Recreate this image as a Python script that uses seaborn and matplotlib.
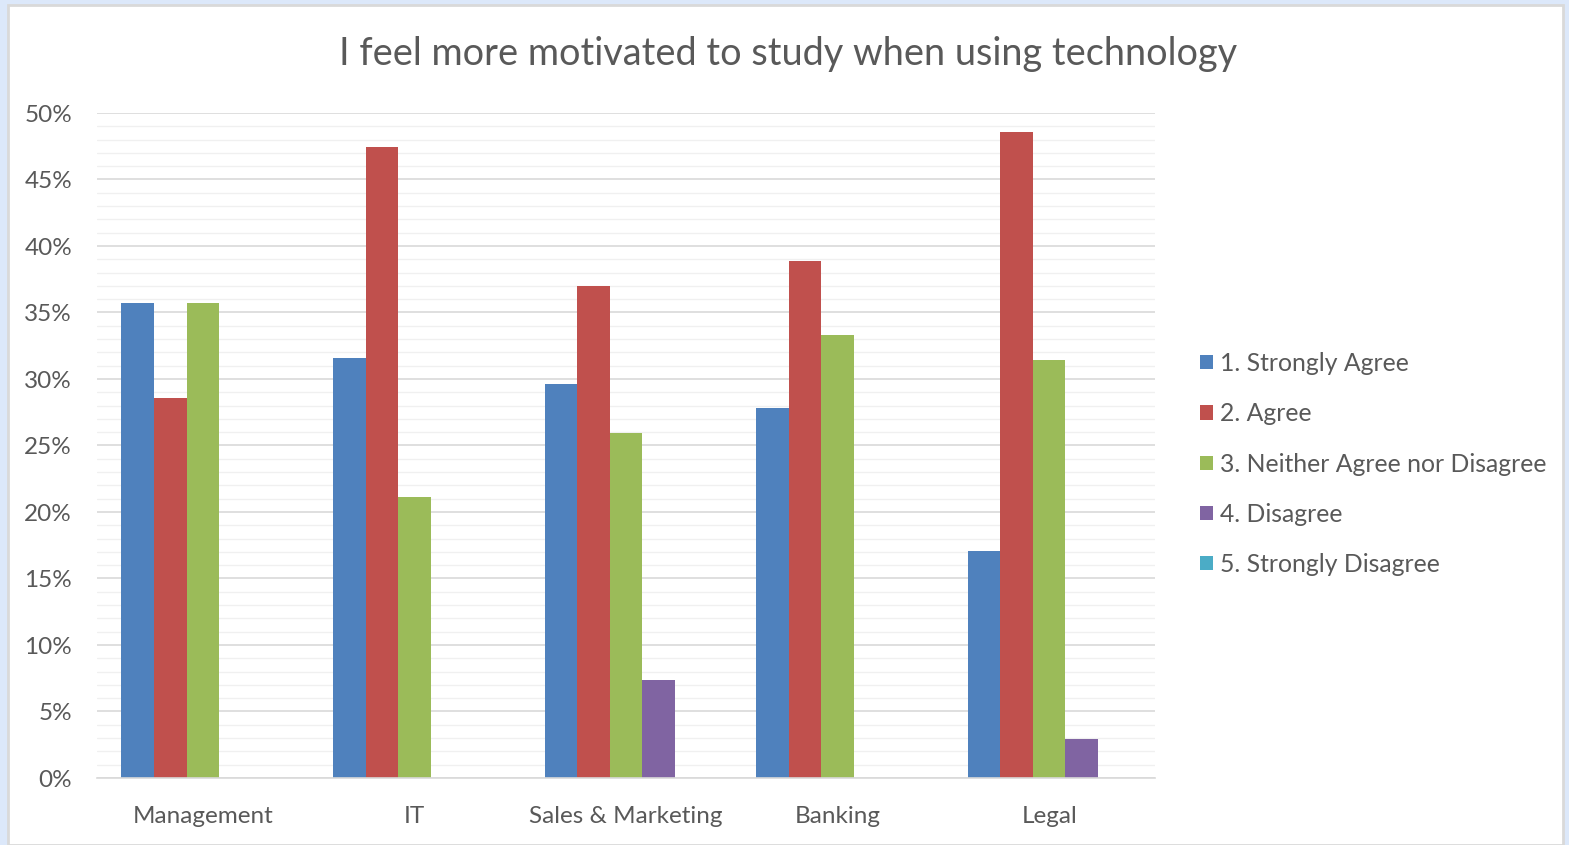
import matplotlib
matplotlib.use("Agg")
import matplotlib.pyplot as plt
import seaborn as sns
import pandas as pd
import numpy as np
from matplotlib.patches import Rectangle
from matplotlib.ticker import MultipleLocator, PercentFormatter

categories = ["Management", "IT", "Sales & Marketing", "Banking", "Legal"]
series = ["1. Strongly Agree", "2. Agree", "3. Neither Agree nor Disagree",
          "4. Disagree", "5. Strongly Disagree"]
strongly_agree = [35.7, 31.6, 29.6, 27.8, 17.1]
agree = [28.6, 47.4, 37.0, 38.9, 48.6]
neither = [35.7, 21.1, 25.9, 33.3, 31.4]
disagree = [0.0, 0.0, 7.4, 0.0, 2.9]
strongly_disagree = [0.0, 0.0, 0.0, 0.0, 0.0]
colors = ["#4F81BD", "#C0504D", "#9BBB59", "#8064A2", "#4BACC6"]

rows = []
for s, vals in zip(series, [strongly_agree, agree, neither, disagree, strongly_disagree]):
    for c, v in zip(categories, vals):
        rows.append({"Department": c, "Response": s, "Percent": v})
df = pd.DataFrame(rows)

sns.set_theme(style="white")
plt.rcParams['font.family'] = ['Lato', 'DejaVu Sans']
text_color = "#595959"

W, H = 1569, 845
fig = plt.figure(figsize=(W / 100, H / 100 + 0.001), dpi=100)
# outer decorations
fig.patches.append(Rectangle((0, 0), 1, 1, transform=fig.transFigure,
                             facecolor="#DCE8FA", edgecolor="none", zorder=-10))
fig.patches.append(Rectangle((8 / W, 0), (1563 - 8) / W, (845 - 5) / H, transform=fig.transFigure,
                             facecolor="white", edgecolor="#D9D9D9", linewidth=2, zorder=-9))

ax = fig.add_axes([97 / W, (H - 778) / H, (1155 - 97) / W, (778 - 113) / H])
ax.set_facecolor("none")
sns.barplot(data=df, x="Department", y="Percent", hue="Response", hue_order=series,
            order=categories, palette=colors, width=0.77, saturation=1, ax=ax,
            errorbar=None, edgecolor="none", linewidth=0)

ax.set_ylim(0, 50)
ax.yaxis.set_major_locator(MultipleLocator(5))
ax.yaxis.set_minor_locator(MultipleLocator(1))
ax.yaxis.set_major_formatter(PercentFormatter(decimals=0))
ax.grid(True, which="major", axis="y", color="#D9D9D9", linewidth=1.2, zorder=0)
ax.grid(True, which="minor", axis="y", color="#F0F0F0", linewidth=1.0, zorder=0)
ax.set_axisbelow(True)
for sp in ["top", "right", "left"]:
    ax.spines[sp].set_visible(False)
ax.spines["bottom"].set_color("#D9D9D9")
ax.spines["bottom"].set_linewidth(1.2)
ax.tick_params(axis="both", which="both", length=0, colors=text_color, labelsize=17.5)
ax.tick_params(axis="y", pad=18)
ax.tick_params(axis="x", pad=20)
ax.set_xlabel("")
ax.set_ylabel("")

fig.text(788 / W, (H - 54) / H, "I feel more motivated to study when using technology",
         ha="center", va="center", fontsize=27.3, color=text_color)

handles, labels = ax.get_legend_handles_labels()
ax.legend(handles, labels, loc="center left", bbox_to_anchor=(1178 / W, (H - 464) / H),
          bbox_transform=fig.transFigure, frameon=False, fontsize=17.8,
          labelcolor=text_color, handlelength=0.5, handleheight=0.5,
          handletextpad=0.3, labelspacing=1.1)

fig.savefig("out.png", dpi=100)
